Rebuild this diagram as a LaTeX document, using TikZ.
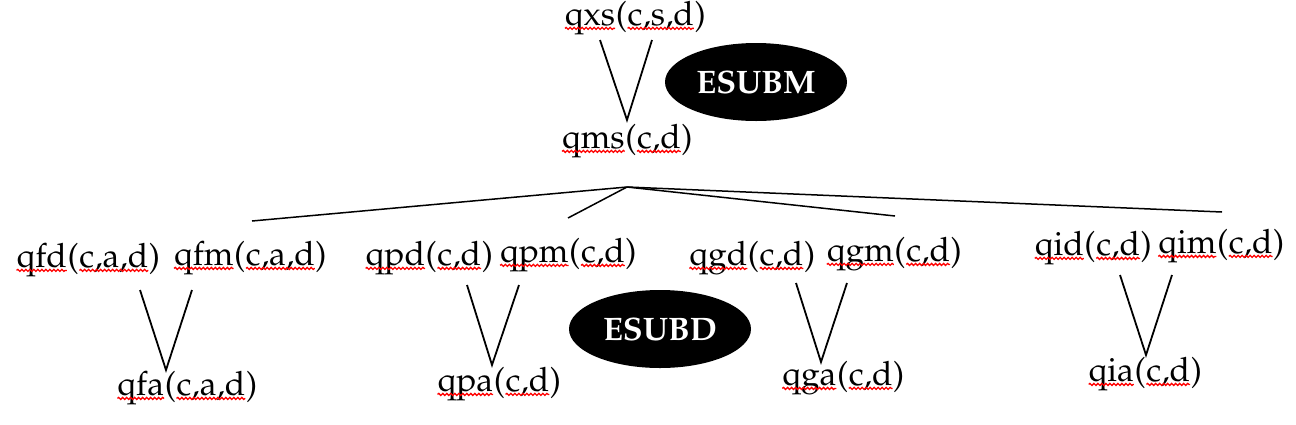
\documentclass[tikz,border=0pt]{standalone}
\usepackage{fontspec}
\IfFileExists{mathpazo.sty}{%
  \usepackage[T1]{fontenc}\usepackage{mathpazo}%
  \newcommand\lblfont{\fontsize{33.5}{38}\selectfont}%
  \newcommand\blobfont{\fontsize{32.5}{38}\selectfont\bfseries}%
}{%
  \setmainfont{Liberation Serif}%
  \newcommand\lblfont{\fontsize{35}{40}\selectfont}%
  \newcommand\blobfont{\fontsize{33}{38}\selectfont\bfseries}%
}
\usetikzlibrary{shapes.geometric,decorations.pathmorphing}
\newcommand\sq[1]{\tikz[baseline=(sqw.base)]{\node[inner sep=0pt,outer sep=0pt,draw=none,fill=none,text=black,anchor=base,font={}](sqw){#1};\draw[red,line width=1.3pt,decorate,decoration={snake,amplitude=1pt,segment length=4pt}] ([yshift=-3pt]sqw.base west) -- ([yshift=-3pt]sqw.base east);}}
\tikzset{
  lbl/.style={inner sep=0pt,outer sep=0pt,font=\lblfont},
  blob/.style={ellipse,fill=black,draw=none,inner sep=0pt,minimum width=182pt,minimum height=78pt,text=white,font=\blobfont},
  vline/.style={line width=1.8pt},
  fan/.style={line width=1.5pt}
}
\begin{document}
\begin{tikzpicture}[x=1pt,y=-1pt]
\useasboundingbox (0,0) rectangle (1296,424);
% top group
\node[lbl] (qxs) at (635,18) {\sq{qxs}(\sq{c,s,d})};
\node[blob] (esubm) at (756,82) {ESUBM};
\node[lbl] (qms) at (627,141) {\sq{qms}(\sq{c,d})};
\coordinate (xa) at (600,40);
\coordinate (xv) at (627,120);
\coordinate (xb) at (652,40);
\draw[vline] (xa) -- (xv) -- (xb);
% fan
\coordinate (apex) at (627,187);
\coordinate (f1) at (252,221);
\coordinate (f2) at (568,218);
\coordinate (f3) at (895,216);
\coordinate (f4) at (1222,212);
\draw[fan] (apex) -- (f1);
\draw[fan] (apex) -- (f2);
\draw[fan] (apex) -- (f3);
\draw[fan] (apex) -- (f4);
% group f
\node[lbl] (qfd) at (88,260) {\sq{qfd}(\sq{c,a,d})};
\node[lbl] (qfm) at (250,258) {\sq{qfm}(\sq{c,a,d})};
\node[lbl] (qfa) at (187,388) {\sq{qfa}(\sq{c,a,d})};
\coordinate (fa) at (140,290);
\coordinate (fv) at (166,370);
\coordinate (fb) at (192,290);
\draw[vline] (fa) -- (fv) -- (fb);
% group p
\node[lbl] (qpd) at (429,258) {\sq{qpd}(\sq{c,d})};
\node[lbl] (qpm) at (568,255) {\sq{qpm}(\sq{c,d})};
\node[lbl] (qpa) at (499,384) {\sq{qpa}(\sq{c,d})};
\coordinate (pa) at (467,285);
\coordinate (pv) at (492,365);
\coordinate (pb) at (519,285);
\draw[vline] (pa) -- (pv) -- (pb);
\node[blob] (esubd) at (660,329) {ESUBD};
% group g
\node[lbl] (qgd) at (752,258) {\sq{qgd}(\sq{c,d})};
\node[lbl] (qgm) at (894,254) {\sq{qgm}(\sq{c,d})};
\node[lbl] (qga) at (843,378) {\sq{qga}(\sq{c,d})};
\coordinate (ga) at (796,283);
\coordinate (gv) at (821,362);
\coordinate (gb) at (847,283);
\draw[vline] (ga) -- (gv) -- (gb);
% group i
\node[lbl] (qid) at (1093,248) {\sq{qid}(\sq{c,d})};
\node[lbl] (qim) at (1221,246) {\sq{qim}(\sq{c,d})};
\node[lbl] (qia) at (1145,374) {\sq{qia}(\sq{c,d})};
\coordinate (ia) at (1120,275);
\coordinate (iv) at (1146,355);
\coordinate (ib) at (1172,275);
\draw[vline] (ia) -- (iv) -- (ib);
\end{tikzpicture}
\end{document}
